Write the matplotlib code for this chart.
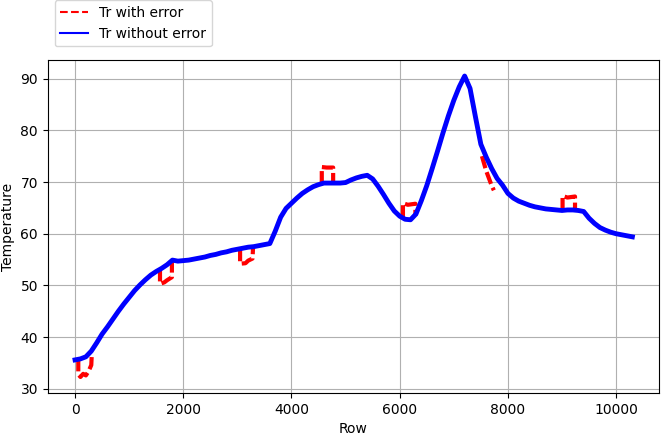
import numpy as np
import matplotlib
matplotlib.use("Agg")
import matplotlib.pyplot as plt

# Row index, sampled every 100 rows
rows = np.arange(0, 10301, 100)

# Tr without error
tr_clean = [
    35.6, 35.8, 36.2, 37.3, 38.9, 40.6, 42.0, 43.5, 45.0, 46.4,
    47.7, 49.0, 50.1, 51.1, 52.0, 52.7, 53.3, 54.0, 54.9, 54.7,
    54.8, 54.9, 55.1, 55.3, 55.5, 55.8, 56.0, 56.3, 56.5, 56.8,
    57.0, 57.2, 57.4, 57.5, 57.7, 57.9, 58.1, 60.5, 63.2, 64.9,
    65.9, 66.9, 67.8, 68.5, 69.1, 69.5, 69.8, 69.8, 69.8, 69.8,
    69.9, 70.4, 70.8, 71.1, 71.3, 70.6, 69.2, 67.6, 65.9, 64.4,
    63.4, 62.8, 62.7, 63.8, 66.4, 69.3, 72.6, 76.0, 79.5, 82.8,
    85.8, 88.4, 90.5, 88.1, 82.6, 77.3, 74.8, 72.6, 70.7, 69.4,
    67.8, 66.9, 66.3, 65.9, 65.5, 65.2, 65.0, 64.8, 64.7, 64.6,
    64.5, 64.6, 64.6, 64.5, 64.3, 63.0, 62.0, 61.2, 60.7, 60.3,
    60.0, 59.8, 59.6, 59.4,
]

# Tr with error: the faulty stretches (row, value)
err_rows = [
    60, 60, 100, 150, 200, 250, 300, 310, None,
    1570, 1570, 1650, 1700, 1790, 1790, None,
    3050, 3050, 3150, 3200, 3280, 3290, None,
    4560, 4560, 4650, 4770, 4770, None,
    6060, 6060, 6150, 6290, 6290, None,
    7520, 7600, 7700, 7740, None,
    9010, 9010, 9100, 9240, 9240,
]
err_vals = [
    35.8, 32.8, 32.3, 32.9, 32.6, 33.4, 34.6, 36.8, None,
    53.2, 50.3, 50.6, 51.0, 51.6, 54.6, None,
    57.1, 54.2, 54.3, 54.8, 55.2, 57.4, None,
    69.7, 72.9, 72.8, 72.8, 69.8, None,
    63.1, 65.9, 65.6, 65.8, 63.5, None,
    75.0, 72.1, 69.3, 68.4, None,
    64.5, 67.3, 67.0, 67.2, 64.6,
]

err_x = np.array([np.nan if v is None else v for v in err_rows], dtype=float)
err_y = np.array([np.nan if v is None else v for v in err_vals], dtype=float)

fig = plt.figure(figsize=(6.61, 4.37), dpi=100)
ax = fig.add_axes([0.0722, 0.1007, 0.925, 0.762])

ax.plot(err_x, err_y, color="red", linestyle=(0, (3, 1)), linewidth=3, label="Tr with error")
ax.plot(rows, tr_clean, color="blue", linewidth=3.5, label="Tr without error")

ax.set_xlim(-505, 10795)
ax.set_ylim(29.2, 93.6)
ax.set_xlabel("Row")
ax.set_ylabel("Temperature")
ax.grid(True)

leg = ax.legend(loc="upper left", bbox_to_anchor=(0, 1.2))
leg_lines = leg.get_lines()
leg_lines[0].set_linestyle("--")
for line in leg_lines:
    line.set_linewidth(1.5)

fig.savefig("out.png", dpi=100)
